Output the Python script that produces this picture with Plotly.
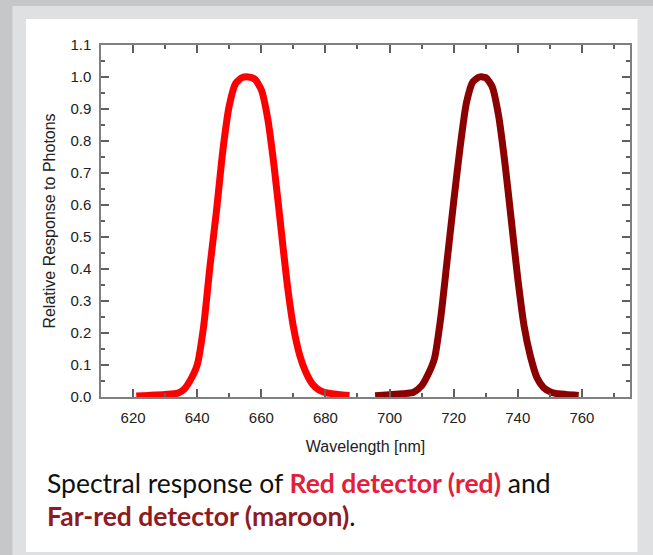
import plotly.graph_objects as go

# ---- data ----
red_wavelength = [621, 625, 630, 634, 636, 638, 640, 642, 644, 646, 648, 650, 652, 654, 656,
                  658, 660, 662, 664, 666, 668, 670, 672, 674, 676, 678, 680, 684, 687.5]
red_response = [0.003, 0.005, 0.008, 0.012, 0.025, 0.055, 0.10, 0.22, 0.41, 0.58, 0.77, 0.91,
                0.98, 0.998, 1.0, 0.993, 0.96, 0.87, 0.72, 0.54, 0.36, 0.22, 0.13, 0.075,
                0.04, 0.022, 0.014, 0.008, 0.005]

farred_wavelength = [695.5, 700, 704, 707.5, 710, 712, 714, 716, 718, 720, 722, 724, 726, 728,
                     730, 732, 734, 736, 738, 740, 742, 744, 746, 748, 750, 752, 755, 759]
farred_response = [0.004, 0.007, 0.010, 0.015, 0.035, 0.07, 0.12, 0.25, 0.43, 0.61, 0.78, 0.92,
                   0.985, 1.0, 0.998, 0.97, 0.88, 0.73, 0.55, 0.37, 0.22, 0.125, 0.06, 0.03,
                   0.017, 0.011, 0.008, 0.005]

x_ticks = [620, 640, 660, 680, 700, 720, 740, 760]
y_ticks = [0.0, 0.1, 0.2, 0.3, 0.4, 0.5, 0.6, 0.7, 0.8, 0.9, 1.0, 1.1]

x_title = "Wavelength [nm]"
y_title = "Relative Response to Photons"
caption_line1 = ("Spectral response of <b><span style='color:#e3203b'>Red detector (red)</span></b> and")
caption_line2 = ("<b><span style='color:#8e1b1f'>Far-red detector (maroon)</span></b>.")

# ---- figure ----
W, H = 653, 555
L, R, T, B = 101, 630, 45, 397  # plot area in pixels


def fx(px):
    return (px - L) / (R - L)


def fy(py):
    return (B - py) / (B - T)


fig = go.Figure()
fig.add_trace(go.Scatter(x=red_wavelength, y=red_response, mode="lines",
                         line=dict(color="#ff0000", width=7, shape="spline", smoothing=0.6),
                         showlegend=False))
fig.add_trace(go.Scatter(x=farred_wavelength, y=farred_response, mode="lines",
                         line=dict(color="#8b0000", width=7, shape="spline", smoothing=0.6),
                         showlegend=False))

axis_common = dict(
    showline=True, linecolor="#808080", linewidth=1.5, mirror="ticks",
    ticks="inside", ticklen=8, tickwidth=1.5, tickcolor="#606060",
    showgrid=False, zeroline=False,
    tickfont=dict(family="Liberation Sans, Arial, sans-serif", size=15, color="#222222"),
)

fig.update_xaxes(
    range=[610, 775], tickvals=x_ticks, ticktext=[str(v) for v in x_ticks],
    minor=dict(ticks="inside", ticklen=4, tickwidth=1.5, tickcolor="#606060", dtick=10, tick0=610),
    title=dict(text=x_title, font=dict(family="Liberation Sans, Arial, sans-serif", size=16,
                                       color="#222222"), standoff=16),
    ticklabelstandoff=6,
    **axis_common,
)
fig.update_yaxes(
    range=[0, 1.1], tickvals=y_ticks, ticktext=[f"{v:.1f}" for v in y_ticks],
    minor=dict(ticks="inside", ticklen=4, tickwidth=1.5, tickcolor="#606060", dtick=0.05, tick0=0),
    title=dict(text=y_title, font=dict(family="Liberation Sans, Arial, sans-serif", size=16,
                                       color="#222222"), standoff=11),
    ticklabelstandoff=5,
    **axis_common,
)

shapes = [
    dict(type="rect", xref="paper", yref="paper", layer="below",
         x0=fx(12.5), x1=fx(660), y0=fy(560), y1=fy(6),
         fillcolor="#dfe0e2", line=dict(width=0)),
    dict(type="rect", xref="paper", yref="paper", layer="below",
         x0=fx(26), x1=fx(637.5), y0=fy(552), y1=fy(19),
         fillcolor="#ffffff", line=dict(width=0)),
]

annotations = [
    dict(text=caption_line1, xref="paper", yref="paper", x=fx(45), y=fy(483),
         xanchor="left", yanchor="middle", showarrow=False, align="left",
         font=dict(family="Lato, Noto Sans, sans-serif", size=26.5, color="#111111")),
    dict(text=caption_line2, xref="paper", yref="paper", x=fx(45), y=fy(516),
         xanchor="left", yanchor="middle", showarrow=False, align="left",
         font=dict(family="Lato, Noto Sans, sans-serif", size=26.5, color="#111111")),
]

fig.update_layout(
    width=W, height=H,
    margin=dict(l=L, r=W - R, t=T, b=H - B, pad=0, autoexpand=False),
    paper_bgcolor="#c6c7c9", plot_bgcolor="#ffffff",
    shapes=shapes, annotations=annotations,
    xaxis_automargin=False, yaxis_automargin=False,
)

fig.write_html("out.html", config={"displayModeBar": False},
               post_script="document.body.style.margin='0';document.body.style.overflow='hidden';")
